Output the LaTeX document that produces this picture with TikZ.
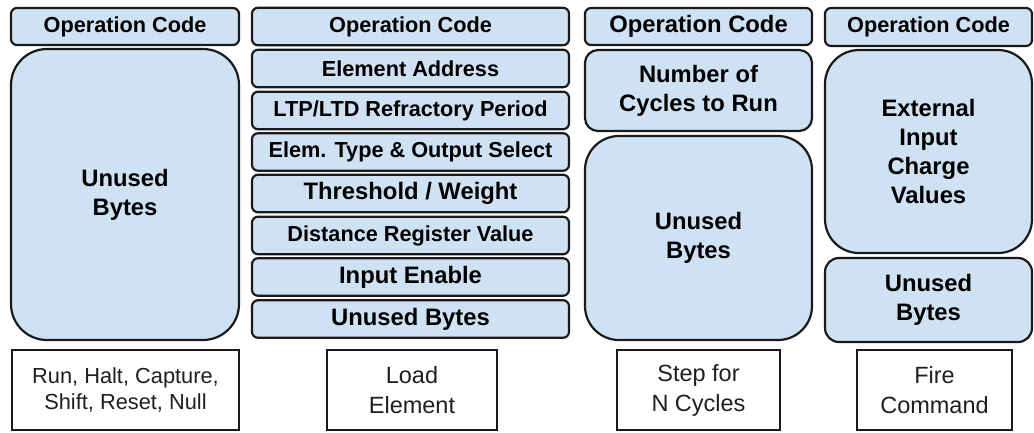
\documentclass[tikz,border=0pt]{standalone}
\usepackage{fontspec}
\setmainfont{Liberation Sans}
\definecolor{fieldblue}{HTML}{CFE2F3}
\definecolor{edge}{HTML}{1A1A1A}
\tikzset{
  x=1pt, y=-1pt,
  field/.style={draw=edge, line width=2.2pt, fill=fieldblue, align=center,
    inner sep=0pt, text=black, rounded corners=#1},
  field/.default=6pt,
  small/.style={font=\bfseries\fontsize{21.7}{26}\selectfont},
  big/.style={font=\bfseries\fontsize{23.8}{29}\selectfont},
  cmdbox/.style={draw=edge, line width=2.2pt, fill=white, align=center,
    inner sep=0pt, text=black!88, font=\fontsize{23.5}{30}\selectfont},
  sz/.style 2 args={minimum width=#1pt, minimum height=#2pt},
}
\begin{document}
\begin{tikzpicture}
\useasboundingbox (0,0) rectangle (1034,432);

% Column 1: control commands
\node[field, small, sz={228}{37}] (c1op) at (125,26.5) {Operation Code};
\node[field=36pt, big, sz={228}{291}] (c1un) at (125,194.5) {Unused\\Bytes};
\node[cmdbox, sz={227}{80}, font=\fontsize{21.8}{25.5}\selectfont] (c1lab) at (125.5,390)
  {Run, Halt, Capture,\\Shift, Reset, Null};

% Column 2: load element
\node[field, small, sz={317}{37.5}] (c2op) at (410.5,26.5) {Operation Code};
\node[field, small, sz={317}{37.5}] (c2ea) at (410.5,68.5) {Element Address};
\node[field, small, sz={317}{37.5}] (c2rp) at (410.5,110.5) {LTP/LTD Refractory Period};
\node[field, small, sz={317}{37.5}] (c2ts) at (410.5,152) {Elem. Type \& Output Select};
\node[field, big, sz={317}{37.5}] (c2tw) at (410.5,193.5) {Threshold / Weight};
\node[field, small, sz={317}{37.5}] (c2dr) at (410.5,235.5) {Distance Register Value};
\node[field, big, sz={317}{37.5}] (c2ie) at (410.5,277) {Input Enable};
\node[field, big, sz={317}{37.5}] (c2un) at (410.5,319) {Unused Bytes};
\node[cmdbox, sz={170}{80}] (c2lab) at (412,390) {Load\\Element};

% Column 3: step for N cycles
\node[field, big, sz={227}{37}] (c3op) at (698.5,26.5) {Operation Code};
\node[field=13pt, big, sz={227}{81}] (c3nc) at (698.5,90.5) {Number of\\Cycles to Run};
\node[field=34pt, big, sz={227}{204}] (c3un) at (698.5,238) {Unused\\Bytes};
\node[cmdbox, sz={163}{80}] (c3lab) at (698.5,390) {Step for\\N Cycles};

% Column 4: fire command
\node[field, small, sz={207}{38}] (c4op) at (928.5,27) {Operation Code};
\node[field=34pt, big, sz={207}{203}] (c4ex) at (928.5,151.5) {External\\Input\\Charge\\Values};
\node[field=14pt, big, sz={207}{84}] (c4un) at (928.5,300) {Unused\\Bytes};
\node[cmdbox, sz={155}{80}] (c4lab) at (934.5,390) {Fire\\Command};
\end{tikzpicture}
\end{document}
